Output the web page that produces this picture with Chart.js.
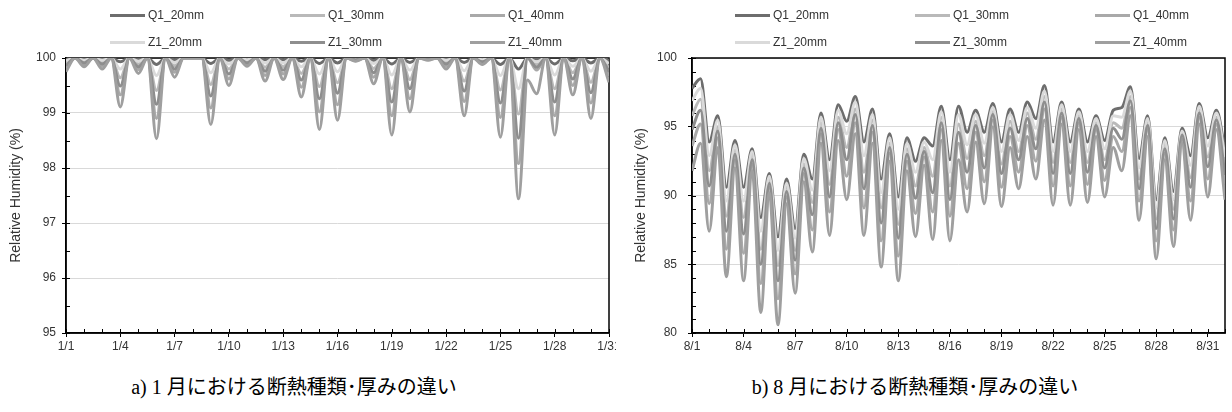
<!DOCTYPE html>
<html>
<head>
<meta charset="utf-8">
<script src="https://cdn.jsdelivr.net/npm/chart.js@4.4.1/dist/chart.umd.min.js"></script>
<style>
  body { margin: 0; background: #fff; width: 1232px; height: 412px; overflow: hidden; font-family: "Liberation Sans", sans-serif; }
  .panel { position: absolute; top: 0; width: 616px; height: 412px; overflow: hidden; }
  .panel canvas { position: absolute; left: 0; top: 0; }
  .legend-item { position: absolute; display: flex; align-items: center; font-size: 12px; color: #333; white-space: nowrap; height: 16px; }
  .legend-line { width: 35px; height: 3px; margin-right: 3px; }
  .caption { position: absolute; top: 375px; left: 0; text-align: center; font-family: "Liberation Serif", "Noto Sans CJK JP", serif; font-size: 20px; line-height: 24px; color: #000; white-space: nowrap; }
</style>
</head>
<body>
<div class="panel" id="panel-jan" style="left:0">
  <canvas id="chart-jan" width="616" height="360"></canvas>
  <div class="caption" style="width:588px">a) 1 月における断熱種類･厚みの違い</div>
</div>
<div class="panel" id="panel-aug" style="left:616px">
  <canvas id="chart-aug" width="616" height="360"></canvas>
  <div class="caption" style="width:598px">b) 8 月における断熱種類･厚みの違い</div>
</div>
<script>
// series, in legend order (Excel draws the last one on top)
const seriesNames = ['Q1_20mm', 'Q1_30mm', 'Q1_40mm', 'Z1_20mm', 'Z1_30mm', 'Z1_40mm'];
const seriesColors = ['#6d6d6d', '#b9b9b9', '#a9a9a9', '#dadada', '#8e8e8e', '#9f9f9f'];

// one sample every 12 h: midnight, noon, midnight, ...
const SAMPLE_STEP = 0.5;

// x ticks, in days from the first of the month
const tickDays = [0, 3, 6, 9, 12, 15, 18, 21, 24, 27, 30];
const janTickLabels = ['1/1', '1/4', '1/7', '1/10', '1/13', '1/16', '1/19', '1/22', '1/25', '1/28', '1/31'];
const augTickLabels = ['8/1', '8/4', '8/7', '8/10', '8/13', '8/16', '8/19', '8/22', '8/25', '8/28', '8/31'];

// January relative humidity (%), 1/1 0:00 .. 1/31 0:00
const janQ1_20 = [
  99.98,100, 99.99,100, 99.98,100, 99.93,100, 99.98,100, 99.88,100, 99.97,100, 100,100, 99.9,100, 99.96,100,
  99.99,100, 99.97,100, 99.97,100, 99.94,100, 99.9,100, 99.91,100, 100,100, 99.96,100, 99.89,100, 99.92,100,
  100,100, 99.98,100, 99.92,100, 99.99,100, 99.88,100, 99.8,100, 99.98,100, 99.89,100, 99.95,100, 99.91,100,
  99.96];
const janQ1_30 = [
  99.9,100, 99.94,100, 99.92,100, 99.64,100, 99.89,100, 99.41,100, 99.86,100, 100,100, 99.52,100, 99.8,100,
  99.94,100, 99.83,100, 99.84,100, 99.72,100, 99.48,100, 99.55,100, 99.98,100, 99.81,100, 99.44,100, 99.61,100,
  99.98,100, 99.92,100, 99.58,100, 99.95,100, 99.42,100, 98.98,100, 99.88,100, 99.44,100, 99.73,100, 99.56,100,
  99.82];
const janQ1_40 = [
  99.81,100, 99.88,100, 99.85,100, 99.33,100, 99.79,100, 98.9,100, 99.74,100, 100,100, 99.09,100, 99.62,100,
  99.89,100, 99.68,100, 99.71,100, 99.47,100, 99.02,100, 99.15,100, 99.95,100, 99.65,100, 98.95,100, 99.26,100,
  99.97,100, 99.85,100, 99.21,100, 99.91,100, 98.92,100, 98.08,100, 99.78,100, 98.95,100, 99.5,100, 99.18,100,
  99.67];
const janZ1_20 = [
  99.95,100, 99.96,100, 99.96,100, 99.8,100, 99.94,100, 99.68,100, 99.92,100, 100,100, 99.73,100, 99.89,100,
  99.97,100, 99.91,100, 99.91,100, 99.84,100, 99.71,100, 99.75,100, 99.99,100, 99.9,100, 99.69,100, 99.78,100,
  99.99,100, 99.96,100, 99.77,100, 99.97,100, 99.68,100, 99.44,100, 99.93,100, 99.69,100, 99.85,100, 99.76,100,
  99.9];
const janZ1_30 = [
  99.86,100, 99.91,100, 99.89,100, 99.49,100, 99.84,100, 99.16,100, 99.8,100, 100,100, 99.31,100, 99.71,100,
  99.91,100, 99.76,100, 99.78,100, 99.6,100, 99.26,100, 99.36,100, 99.97,100, 99.73,100, 99.2,100, 99.44,100,
  99.98,100, 99.89,100, 99.4,100, 99.93,100, 99.18,100, 98.54,100, 99.83,100, 99.2,100, 99.62,100, 99.37,100,
  99.75];
const janZ1_40 = [
  99.75,100, 99.84,100, 99.8,100, 99.11,100, 99.72,100, 98.53,100, 99.65,100, 100,100, 98.79,100, 99.5,100,
  99.85,100, 99.58,100, 99.61,100, 99.29,100, 98.7,100, 98.87,100, 99.94,100, 99.53,100, 98.6,100, 99.02,100,
  99.96,100, 99.8,100, 98.95,100, 99.88,100, 98.56,100, 97.44,99.6, 99.35,100, 98.6,100, 99.33,100, 98.9,100,
  99.56];

// August relative humidity (%), 8/1 0:00 .. 9/1 0:00
const augQ1_20 = [
  97.8,98.5, 93.9,95.8, 90.6,94.0, 90.6,93.4, 88.4,91.6, 87.0,91.2, 87.6,93.0, 91.2,96.0, 92.6,96.6, 95.4,97.2,
  93.9,96.3, 91.2,94.5, 89.9,94.2, 92.5,94.2, 93.6,96.5, 92.6,96.5, 94.6,96.2, 94.6,96.7, 93.9,96.3, 94.6,96.8,
  95.6,98.0, 93.9,96.8, 93.9,96.3, 93.9,95.8, 94.0,96.2, 96.4,97.9, 92.7,95.8, 89.7,94.2, 90.3,94.9, 92.9,96.7,
  94.2,96.2, 93.3];
const augQ1_30 = [
  95.8,97.0, 91.8,95.0, 88.5,93.3, 88.4,92.9, 86.1,91.1, 84.9,90.6, 86.0,92.3, 89.5,95.3, 90.8,95.7, 93.5,96.3,
  91.7,95.5, 89.1,93.8, 87.9,93.4, 90.7,93.5, 91.4,95.7, 90.7,95.2, 92.7,95.4, 92.9,96.1, 92.3,95.4, 93.2,96.0,
  94.1,97.2, 92.4,96.3, 92.4,95.8, 92.4,95.3, 92.6,95.3, 94.9,97.2, 91.2,95.3, 88.3,93.7, 89.0,94.5, 91.3,96.2,
  92.8,95.7, 92.1];
const augQ1_40 = [
  93.6,95.2, 89.4,94.2, 86.1,92.6, 85.8,92.3, 83.6,90.6, 82.5,89.9, 84.3,91.6, 87.5,94.5, 88.8,94.8, 91.4,95.3,
  89.1,94.6, 86.7,93.1, 85.6,92.5, 88.7,92.8, 88.8,94.8, 88.5,93.8, 90.5,94.6, 91.0,95.5, 90.6,94.3, 91.7,95.1,
  92.5,96.3, 90.7,95.7, 90.7,95.3, 90.8,94.8, 91.1,94.3, 93.2,96.4, 89.6,94.8, 86.7,93.1, 87.5,94.1, 89.6,95.7,
  91.2,95.2, 90.8];
const augZ1_20 = [
  96.9,97.8, 92.9,95.5, 89.6,93.7, 89.6,93.2, 87.4,91.4, 86.0,90.9, 86.9,92.7, 90.4,95.7, 91.8,96.2, 94.5,96.8,
  92.9,95.9, 90.2,94.2, 89.0,93.8, 91.7,93.9, 92.6,96.1, 91.7,95.9, 93.7,95.9, 93.8,96.4, 93.2,95.9, 94.0,96.4,
  94.9,97.6, 93.2,96.6, 93.2,96.1, 93.2,95.6, 93.4,95.8, 95.7,97.6, 92.0,95.6, 89.1,94.0, 89.7,94.7, 92.2,96.5,
  93.6,96.0, 92.8];
const augZ1_30 = [
  94.8,96.2, 90.7,94.7, 87.4,93.0, 87.2,92.6, 85.0,90.9, 83.8,90.3, 85.3,92.0, 88.6,94.9, 89.9,95.3, 92.6,95.9,
  90.5,95.1, 88.0,93.5, 86.9,93.0, 89.8,93.2, 90.2,95.3, 89.7,94.6, 91.7,95.1, 92.0,95.9, 91.6,94.9, 92.6,95.6,
  93.4,96.8, 91.6,96.0, 91.6,95.6, 91.7,95.1, 92.0,94.9, 94.1,96.9, 90.5,95.1, 87.6,93.4, 88.3,94.4, 90.6,96.0,
  92.1,95.5, 91.5];
const augZ1_40 = [
  91.8,93.8, 87.4,93.5, 84.1,92.0, 83.8,91.8, 81.5,90.2, 80.6,89.4, 82.9,91.0, 85.9,93.8, 87.1,94.0, 89.7,94.5,
  87.1,93.8, 84.8,92.5, 83.8,91.8, 87.0,92.2, 86.8,94.0, 86.7,92.6, 88.8,93.9, 89.4,95.0, 89.2,93.5, 90.5,94.3,
  91.2,95.5, 89.3,95.2, 89.3,94.8, 89.5,94.3, 89.9,93.5, 91.8,95.8, 88.2,94.3, 85.4,92.6, 86.3,93.8, 88.2,95.2,
  89.9,94.8, 89.7];

const tickFont = { family: "'Liberation Sans', sans-serif", size: 12 };
const titleFont = { family: "'Liberation Sans', sans-serif", size: 14 };

// black plot frame plus the small inside ticks (daily on x, minor steps on y)
const frameAndMinorTicks = {
  id: 'frameAndMinorTicks',
  beforeDatasetsDraw(chart, args, opts) {
    const { ctx, chartArea: area, scales: { x, y } } = chart;
    ctx.save();
    ctx.strokeStyle = '#000';
    ctx.lineWidth = 1;
    ctx.beginPath();
    for (let d = x.min; d <= x.max; d += 1) {
      const px = Math.round(x.getPixelForValue(d)) + 0.5;
      ctx.moveTo(px, area.bottom);
      ctx.lineTo(px, area.bottom - 4);
    }
    for (let v = y.min; v <= y.max; v += opts.yMinor) {
      const py = Math.round(y.getPixelForValue(v)) + 0.5;
      ctx.moveTo(area.left, py);
      ctx.lineTo(area.left + 4, py);
    }
    ctx.stroke();
    ctx.lineWidth = 1.5;
    ctx.strokeRect(area.left, area.top, area.right - area.left, area.bottom - area.top);
    ctx.restore();
  }
};

function buildLegend(panel, left) {
  seriesNames.forEach((name, i) => {
    const item = document.createElement('div');
    item.className = 'legend-item';
    item.style.left = (left + (i % 3) * 180) + 'px';
    item.style.top = (7 + Math.floor(i / 3) * 27) + 'px';
    const line = document.createElement('span');
    line.className = 'legend-line';
    line.style.background = seriesColors[i];
    const text = document.createElement('span');
    text.innerText = name;
    item.appendChild(line);
    item.appendChild(text);
    panel.appendChild(item);
  });
}

function buildChart(canvasId, opts) {
  const { values, days, tickLabels, yMin, yMax, yStep, yMinor, padLeft, axisWidth, padRight, labelPad } = opts;
  return new Chart(document.getElementById(canvasId), {
    type: 'line',
    data: {
      datasets: seriesNames.map((name, i) => ({
        label: name,
        data: values[i].map((v, k) => ({ x: k * SAMPLE_STEP, y: v })),
        borderColor: seriesColors[i],
        borderWidth: 3,
        pointRadius: 0,
        fill: false,
        cubicInterpolationMode: 'monotone',
        order: seriesNames.length - i,
      })),
    },
    options: {
      responsive: false,
      animation: false,
      events: [],
      layout: { padding: { top: 58, right: padRight, bottom: 0, left: padLeft } },
      plugins: {
        legend: { display: false },
        tooltip: { enabled: false },
        frameAndMinorTicks: { yMinor },
      },
      scales: {
        x: {
          type: 'linear',
          min: 0,
          max: days,
          afterBuildTicks: (scale) => { scale.ticks = tickDays.map(v => ({ value: v })); },
          afterFit: (scale) => { scale.height = 27; scale.paddingLeft = 0; scale.paddingRight = 0; },
          ticks: {
            autoSkip: false,
            maxRotation: 0,
            padding: 2,
            color: '#333',
            font: tickFont,
            callback: (v, i) => tickLabels[i],
          },
          grid: { drawOnChartArea: false, drawTicks: true, tickLength: 4, tickColor: '#000' },
          border: { color: '#000', width: 1.5 },
        },
        y: {
          min: yMin,
          max: yMax,
          afterFit: (scale) => { scale.width = axisWidth; },
          ticks: { stepSize: yStep, padding: labelPad, color: '#333', font: tickFont },
          grid: { color: '#d9d9d9', lineWidth: 1, drawTicks: true, tickLength: 4, tickColor: '#000' },
          border: { color: '#000', width: 1.5 },
          title: {
            display: true,
            text: 'Relative Humidity (%)',
            color: '#333',
            font: titleFont,
            padding: { top: 2, bottom: 0 },
          },
        },
      },
    },
    plugins: [frameAndMinorTicks],
  });
}

buildLegend(document.getElementById('panel-jan'), 110);
buildLegend(document.getElementById('panel-aug'), 119);

buildChart('chart-jan', {
  values: [janQ1_20, janQ1_30, janQ1_40, janZ1_20, janZ1_30, janZ1_40],
  days: 30,
  tickLabels: janTickLabels,
  yMin: 95, yMax: 100, yStep: 1, yMinor: 0.5,
  padLeft: 6, axisWidth: 60, padRight: 7, labelPad: 6,
});

buildChart('chart-aug', {
  values: [augQ1_20, augQ1_30, augQ1_40, augZ1_20, augZ1_30, augZ1_40],
  days: 31,
  tickLabels: augTickLabels,
  yMin: 80, yMax: 100, yStep: 5, yMinor: 1,
  padLeft: 15, axisWidth: 61, padRight: 7, labelPad: 11,
});
</script>
</body>
</html>
